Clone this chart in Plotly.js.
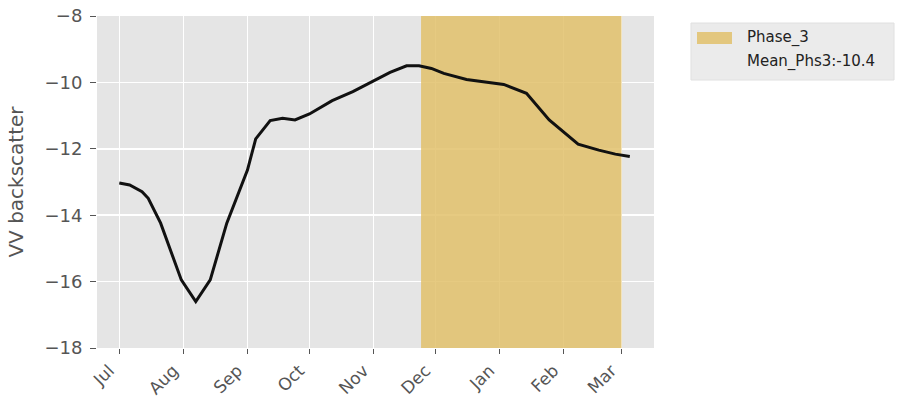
<!DOCTYPE html>
<html>
<head>
<meta charset="utf-8">
<script src="https://cdn.plot.ly/plotly-3.0.1.min.js"></script>
<style>html,body{margin:0;padding:0;background:#fff;}#chart{width:900px;height:410px;}</style>
</head>
<body>
<div id="chart"></div>
<script>
// Data
var dates = ["2018-07-01","2018-07-06","2018-07-12","2018-07-15","2018-07-21","2018-07-25","2018-07-31",
  "2018-08-07","2018-08-14","2018-08-22","2018-09-01","2018-09-05","2018-09-12","2018-09-18","2018-09-24",
  "2018-10-01","2018-10-12","2018-10-22","2018-11-01","2018-11-09","2018-11-17","2018-11-23","2018-11-29",
  "2018-12-05","2018-12-16","2019-01-03","2019-01-14","2019-01-25","2019-02-08","2019-02-18","2019-02-26","2019-03-05"];
var vvValues = [-13.03,-13.09,-13.29,-13.49,-14.24,-14.95,-15.95,
  -16.6,-15.95,-14.24,-12.64,-11.7,-11.15,-11.08,-11.13,
  -10.95,-10.55,-10.28,-9.95,-9.7,-9.5,-9.5,-9.58,
  -9.73,-9.91,-10.06,-10.33,-11.13,-11.86,-12.04,-12.16,-12.23];
var phaseStart = "2018-11-24";
var phaseEnd = "2019-03-01";
var phaseLabel = "Phase_3";
var meanLabel = "Mean_Phs3:-10.4";
var monthTicks = ["2018-07-01","2018-08-01","2018-09-01","2018-10-01","2018-11-01","2018-12-01","2019-01-01","2019-02-01","2019-03-01"];
var monthLabels = ["Jul","Aug","Sep","Oct","Nov","Dec","Jan","Feb","Mar"];
var xRange = ["2018-06-20 05:00","2019-03-16 17:00"];
var yRange = [-18, -8];

var phaseColor = "rgba(225,190,101,0.82)";
var tickGray = "#555555";

var phaseTrace = {
  x: [phaseStart, phaseStart, phaseEnd, phaseEnd],
  y: [yRange[0], yRange[1], yRange[1], yRange[0]],
  type: "scatter", mode: "lines", fill: "toself",
  fillcolor: phaseColor, line: {width: 0, color: "rgba(0,0,0,0)"},
  showlegend: false, hoverinfo: "skip", cliponaxis: true
};

var trace = {
  x: dates, y: vvValues, type: "scatter", mode: "lines",
  line: {color: "#111111", width: 3, shape: "linear"},
  showlegend: false, hoverinfo: "skip"
};

var layout = {
  width: 900, height: 410,
  margin: {l: 97, r: 246, t: 16, b: 62, pad: 0},
  paper_bgcolor: "#ffffff",
  plot_bgcolor: "#e5e5e5",
  font: {family: "DejaVu Sans", color: tickGray},
  showlegend: false,
  xaxis: {
    type: "date", range: xRange,
    tickvals: monthTicks, ticktext: monthLabels,
    tickangle: -45,
    tickfont: {size: 17, color: tickGray},
    ticklabelshift: -10,
    showgrid: true, gridcolor: "#ffffff", gridwidth: 1.5,
    ticks: "outside", ticklen: 5, tickcolor: tickGray, tickwidth: 1,
    zeroline: false, showline: false, automargin: false
  },
  yaxis: {
    range: yRange, dtick: 2, tick0: -18,
    tickfont: {size: 18, color: tickGray},
    showgrid: true, gridcolor: "#ffffff", gridwidth: 1.5,
    ticks: "outside", ticklen: 6, tickcolor: tickGray, tickwidth: 1,
    ticklabelstandoff: 4,
    zeroline: false, showline: false, automargin: false,
    title: {text: "VV backscatter", font: {size: 20, color: tickGray}, standoff: 15}
  },
  shapes: [
    // legend box
    {type: "rect", xref: "paper", yref: "paper", x0: 1.0664, x1: 1.4309, y0: 0.8072, y1: 0.9789,
     fillcolor: "#ebebeb", line: {color: "#e0e0e0", width: 1}, layer: "above"},
    // legend swatch
    {type: "rect", xref: "paper", yref: "paper", x0: 1.0772, x1: 1.1400, y0: 0.9157, y1: 0.9518,
     fillcolor: phaseColor, line: {width: 0}, layer: "above"}
  ],
  annotations: [
    {xref: "paper", yref: "paper", x: 1.1634, y: 0.9352, xanchor: "left", yanchor: "middle",
     text: phaseLabel, showarrow: false, font: {size: 15, color: "#222222"}},
    {xref: "paper", yref: "paper", x: 1.1634, y: 0.8630, xanchor: "left", yanchor: "middle",
     text: meanLabel, showarrow: false, font: {size: 15, color: "#222222"}}
  ]
};

Plotly.newPlot("chart", [phaseTrace, trace], layout, {displayModeBar: false, staticPlot: true});
</script>
</body>
</html>
